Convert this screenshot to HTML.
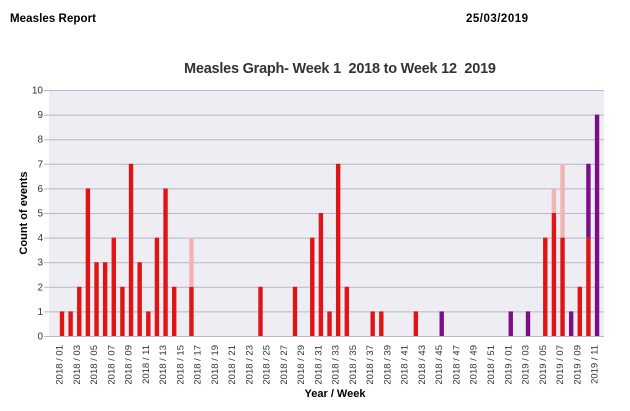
<!DOCTYPE html>
<html><head><meta charset="utf-8"><style>
html,body{margin:0;padding:0;background:#fff;}
svg{display:block;font-family:"Liberation Sans",Arial,sans-serif;}
</style></head><body>
<svg width="630" height="411" viewBox="0 0 630 411" xmlns="http://www.w3.org/2000/svg">
<text x="10" y="22" font-size="11.5" font-weight="bold" fill="#000" textLength="86">Measles Report</text>
<text x="466" y="22" font-size="11.5" font-weight="bold" fill="#000" textLength="62">25/03/2019</text>
<text x="340" y="73" font-size="14.5" font-weight="bold" fill="#333" text-anchor="middle" textLength="312" xml:space="preserve" style="white-space:pre">Measles Graph- Week 1  2018 to Week 12  2019</text>
<rect x="49" y="90" width="555" height="246" fill="#eeedf3"/>
<g id="grid" stroke="#b9b7c7" stroke-width="1"></g>
<g id="ylab" font-size="10" fill="#333" text-anchor="end"></g>
<g id="bars"></g>
<g id="xlab" font-size="9.5" fill="#333" text-anchor="end"></g>
<text transform="translate(27,213) rotate(-90)" font-size="11" font-weight="bold" fill="#000" text-anchor="middle">Count of events</text>
<text x="335" y="397" font-size="11" font-weight="bold" fill="#000" text-anchor="middle">Year / Week</text>
</svg>
<script>
var NS="http://www.w3.org/2000/svg";
function el(p,t,a,txt){var e=document.createElementNS(NS,t);for(var k in a)e.setAttribute(k,a[k]);if(txt!==undefined)e.textContent=txt;document.getElementById(p).appendChild(e);}
var y0=336,u=24.6;
for(var i=0;i<=10;i++){var y=y0-i*u;el("grid","line",{x1:44,x2:604,y1:y+0.5,y2:y+0.5});el("ylab","text",{x:43,y:y+3.5},String(i));}
var R="#e01414",P="#f3b3b3",V="#7a1088";
var d={0:[[R,1]],1:[[R,1]],2:[[R,2]],3:[[R,6]],4:[[R,3]],5:[[R,3]],6:[[R,4]],7:[[R,2]],8:[[R,7]],9:[[R,3]],10:[[R,1]],11:[[R,4]],12:[[R,6]],13:[[R,2]],15:[[R,2],[P,2]],23:[[R,2]],27:[[R,2]],29:[[R,4]],30:[[R,5]],31:[[R,1]],32:[[R,7]],33:[[R,2]],36:[[R,1]],37:[[R,1]],41:[[R,1]],44:[[V,1]],52:[[V,1]],54:[[V,1]],56:[[R,4]],57:[[R,5],[P,1]],58:[[R,4],[P,3]],59:[[V,1]],60:[[R,2]],61:[[R,4],[V,3]],62:[[V,9]]};
for(var k in d){var cx=62+k*8.63,b=0;d[k].forEach(function(s){el("bars","rect",{x:cx-2.2,width:4.4,y:y0-(b+s[1])*u,height:s[1]*u,fill:s[0]});b+=s[1];});}
for(var i=0;i<63;i+=2){var wk=i<52?i+1:i-51,yr=i<52?2018:2019;var cx=62+i*8.63-3+3.5;
el("xlab","text",{transform:"translate("+cx+",345) rotate(-90)"},yr+" / "+(wk<10?"0":"")+wk);}
</script>
</body></html>
